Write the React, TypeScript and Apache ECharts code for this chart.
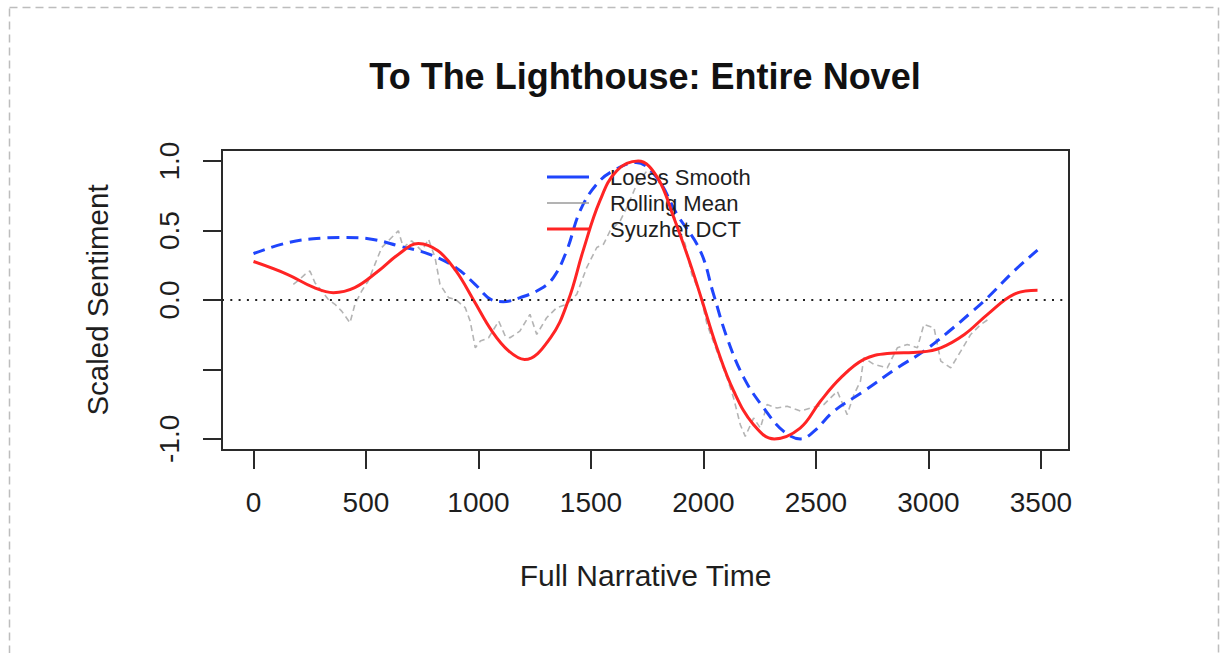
import React, { useEffect, useRef } from "react";
import * as echarts from "echarts";

const TITLE = "To The Lighthouse: Entire Novel";
const X_NAME = "Full Narrative Time";
const Y_NAME = "Scaled Sentiment";
const X_TICKS = [0, 500, 1000, 1500, 2000, 2500, 3000, 3500];
const Y_TICKS = [-1, -0.5, 0, 0.5, 1];
const Y_LABELS = [-1, 0, 0.5, 1];

const dctX = [0, 150, 270, 355, 450, 555, 645, 733, 820, 900, 978, 1060, 1135, 1205, 1320, 1400, 1465, 1540, 1615, 1710, 1795, 1868, 1942, 1993, 2060, 2135, 2223, 2315, 2430, 2520, 2610, 2713, 2817, 2966, 3055, 3160, 3263, 3380, 3485];
const dctY = [0.277, 0.185, 0.089, 0.053, 0.089, 0.209, 0.33, 0.407, 0.354, 0.209, 0, -0.224, -0.368, -0.428, -0.272, 0, 0.354, 0.715, 0.931, 1.0, 0.883, 0.594, 0.258, 0, -0.344, -0.657, -0.898, -1.0, -0.922, -0.729, -0.561, -0.428, -0.385, -0.375, -0.344, -0.248, -0.103, 0.041, 0.07];

const loessX = [0, 155, 300, 410, 525, 645, 780, 900, 985, 1060, 1110, 1185, 1273, 1333, 1392, 1452, 1526, 1600, 1700, 1793, 1882, 1986, 2045, 2105, 2180, 2268, 2357, 2431, 2491, 2580, 2713, 2862, 2980, 3084, 3188, 3263, 3381, 3485];
const loessY = [0.334, 0.414, 0.445, 0.45, 0.438, 0.39, 0.33, 0.233, 0.113, 0, -0.012, 0.017, 0.077, 0.161, 0.354, 0.643, 0.835, 0.931, 0.99, 0.88, 0.619, 0.354, 0.041, -0.272, -0.561, -0.778, -0.946, -1.0, -0.946, -0.8, -0.657, -0.489, -0.368, -0.236, -0.092, 0.017, 0.209, 0.359];

const meanX = [177, 199, 229, 251, 273, 303, 332, 362, 392, 429, 451, 481, 510, 540, 570, 614, 644, 666, 703, 748, 778, 807, 829, 867, 897, 941, 963, 986, 1008, 1045, 1090, 1119, 1140, 1184, 1229, 1259, 1303, 1348, 1392, 1437, 1481, 1526, 1556, 1585, 1630, 1660, 1704, 1749, 1793, 1838, 1882, 1919, 1948, 1986, 2016, 2060, 2105, 2134, 2164, 2186, 2223, 2253, 2283, 2327, 2372, 2416, 2431, 2476, 2535, 2595, 2639, 2669, 2698, 2713, 2758, 2817, 2862, 2906, 2951, 2980, 3025, 3055, 3099, 3144, 3188, 3233, 3277];
const meanY = [0.113, 0.14, 0.185, 0.209, 0.125, 0.065, 0.005, -0.031, -0.08, -0.164, -0.03, 0.065, 0.137, 0.258, 0.378, 0.45, 0.498, 0.378, 0.426, 0.354, 0.438, 0.305, 0.113, 0.017, 0.005, -0.055, -0.152, -0.344, -0.296, -0.272, -0.152, -0.26, -0.272, -0.224, -0.103, -0.248, -0.128, -0.055, -0.031, 0.041, 0.233, 0.378, 0.402, 0.498, 0.57, 0.667, 0.835, 0.93, 0.9, 0.763, 0.547, 0.402, 0.185, 0.041, -0.176, -0.368, -0.561, -0.705, -0.898, -0.982, -0.85, -0.922, -0.753, -0.778, -0.765, -0.79, -0.8, -0.778, -0.753, -0.657, -0.825, -0.681, -0.585, -0.416, -0.464, -0.489, -0.344, -0.32, -0.344, -0.176, -0.2, -0.44, -0.489, -0.368, -0.248, -0.176, -0.128];

const zip = (xs: number[], ys: number[]) => xs.map((x, i) => [x, ys[i]]);

const FONT = "'Liberation Sans', Arial, Helvetica, sans-serif";
const BLUE = "#1f45fc";
const RED = "#ff2424";
const GRAY = "#b4b4b4";
const INK = "#1e1e1e";
const THIN_ICON = "path://M0,0H42V0.01H0Z M0,0.8H42V2.2H0Z M0,2.99H42V3H0Z";

export default function App() {
  const ref = useRef<HTMLDivElement>(null);
  useEffect(() => {
    if (!ref.current) return;
    const chart = echarts.init(ref.current, null, { renderer: "svg" });
    chart.setOption({
      animation: false,
      backgroundColor: "#ffffff",
      title: {
        text: TITLE,
        left: 645,
        top: 58,
        textAlign: "center",
        padding: 0,
        textStyle: { fontFamily: FONT, fontSize: 36, fontWeight: "bold", color: "#111" },
      },
      graphic: [
        {
          type: "rect",
          shape: { x: 9.5, y: 7.5, width: 1209, height: 700 },
          style: { fill: "none", stroke: "#bdbdbd", lineWidth: 1.5, lineDash: [8, 5] },
          silent: true,
        },
      ],
      legend: {
        orient: "vertical",
        left: 547,
        top: 166,
        padding: 0,
        itemWidth: 42,
        itemHeight: 3,
        itemGap: 4,
        selectedMode: false,
        textStyle: { fontFamily: FONT, fontSize: 22, color: INK, lineHeight: 22, padding: [0, 0, 0, 16] },
        data: [
          { name: "Loess Smooth", icon: "rect", itemStyle: { color: BLUE } },
          { name: "Rolling Mean", icon: THIN_ICON, itemStyle: { color: "#9a9a9a" } },
          { name: "Syuzhet DCT", icon: "rect", itemStyle: { color: RED } },
        ],
      },
      grid: {
        left: 222,
        top: 150,
        right: 153,
        bottom: 203,
        show: true,
        borderColor: "#2a2a2a",
        borderWidth: 2,
        backgroundColor: "transparent",
      },
      xAxis: {
        type: "value",
        min: -140,
        max: 3625,
        name: X_NAME,
        nameLocation: "middle",
        nameGap: 110,
        nameTextStyle: { fontFamily: FONT, fontSize: 30, color: INK },
        axisLine: { show: false, onZero: false },
        axisTick: { show: true, length: 19, lineStyle: { color: "#2a2a2a", width: 2 }, customValues: X_TICKS },
        axisLabel: {
          fontFamily: FONT,
          fontSize: 28,
          color: INK,
          margin: 38,
          customValues: X_TICKS,
          formatter: (v: number) => String(v),
        },
        splitLine: { show: false },
      },
      yAxis: {
        type: "value",
        min: -1.08,
        max: 1.08,
        name: Y_NAME,
        nameLocation: "middle",
        nameGap: 110,
        nameRotate: 90,
        nameTextStyle: { fontFamily: FONT, fontSize: 29.5, color: INK },
        axisLine: { show: false, onZero: false },
        axisTick: { show: true, length: 19, lineStyle: { color: "#2a2a2a", width: 2 }, customValues: Y_TICKS },
        axisLabel: {
          fontFamily: FONT,
          fontSize: 28,
          color: INK,
          rotate: 90,
          margin: 39,
          customValues: Y_LABELS,
          formatter: (v: number) => v.toFixed(1),
        },
        splitLine: { show: false },
      },
      series: [
        {
          name: "Rolling Mean",
          type: "line",
          data: zip(meanX, meanY),
          showSymbol: false,
          symbol: "none",
          itemStyle: { color: GRAY },
          lineStyle: { color: GRAY, width: 1.6, type: [6, 4] },
          z: 2,
          markLine: {
            silent: true,
            symbol: "none",
            label: { show: false },
            lineStyle: { color: "#222", width: 2, type: [2, 6.3] },
            data: [{ yAxis: 0 }],
          },
        },
        {
          name: "Loess Smooth",
          type: "line",
          data: zip(loessX, loessY),
          smooth: 0.4,
          showSymbol: false,
          symbol: "none",
          itemStyle: { color: BLUE },
          lineStyle: { color: BLUE, width: 3, type: [12, 7] },
          z: 3,
        },
        {
          name: "Syuzhet DCT",
          type: "line",
          data: zip(dctX, dctY),
          smooth: 0.4,
          showSymbol: false,
          symbol: "none",
          itemStyle: { color: RED },
          lineStyle: { color: RED, width: 3 },
          z: 4,
        },
      ],
    });
    return () => chart.dispose();
  }, []);
  return <div ref={ref} style={{ position: "absolute", left: 0, top: 0, width: 1222, height: 653 }} />;
}
